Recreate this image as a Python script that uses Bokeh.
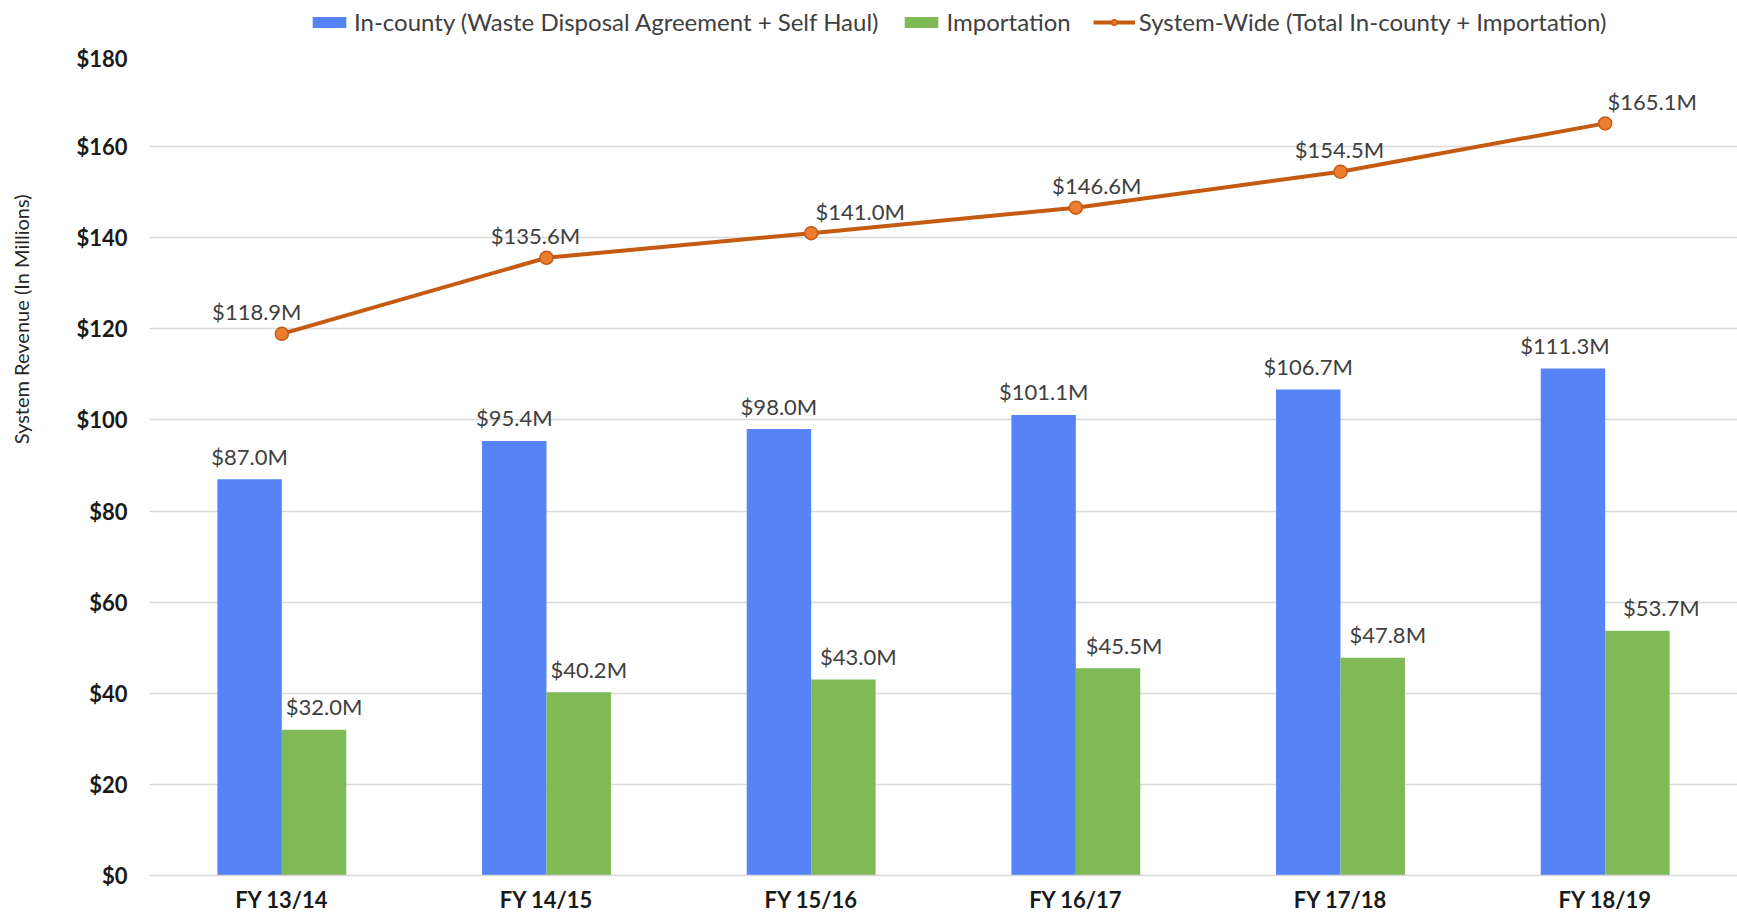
from bokeh.plotting import figure
from bokeh.layouts import column
from bokeh.models import (ColumnDataSource, Range1d, FactorRange, NumeralTickFormatter,
                          FixedTicker, Legend, LegendItem, Title)
from bokeh.transform import dodge
from bokeh.core.properties import value
from bokeh.embed import file_html
from bokeh.resources import INLINE

categories = ["FY 13/14", "FY 14/15", "FY 15/16", "FY 16/17", "FY 17/18", "FY 18/19"]
in_county = [87.0, 95.4, 98.0, 101.1, 106.7, 111.3]
importation = [32.0, 40.2, 43.0, 45.5, 47.8, 53.7]
system_wide = [118.9, 135.6, 141.0, 146.6, 154.5, 165.1]
y_ticks = [0, 20, 40, 60, 80, 100, 120, 140, 160, 180]

# small horizontal nudges (px) of the value labels, as placed in the original
nudge_in_county = [0, 0, 0, 0, 0, -8]
nudge_importation = [10, 10, 15, 16, 15, 24]
nudge_system = [-25, -11, 49, 21, -1, 47]

FONT = "Lato"
BLUE = "#5683F6"
GREEN = "#7FBA57"
ORANGE_LINE = "#C55A11"
ORANGE_FILL = "#ED7D31"
LABEL_COLOR = "#404040"
W = 1737
LEG_H = 44

src = ColumnDataSource(dict(
    cat=categories,
    inc=in_county,
    imp=importation,
    sw=system_wide,
    inc_lbl=["${:.1f}M".format(v) for v in in_county],
    imp_lbl=["${:.1f}M".format(v) for v in importation],
    sw_lbl=["${:.1f}M".format(v) for v in system_wide],
    n_inc=nudge_in_county,
    n_imp=nudge_importation,
    n_sw=nudge_system,
))

p = figure(x_range=FactorRange(factors=categories, range_padding=0),
           y_range=Range1d(0, 180),
           width=W, height=923 - LEG_H,
           output_backend="svg", toolbar_location=None,
           min_border_left=149, min_border_right=0,
           min_border_top=55 - LEG_H, min_border_bottom=48)
p.outline_line_color = None
p.background_fill_color = "white"
p.border_fill_color = "white"

BW = 0.2435
bar_inc = dict(fill_color=BLUE, line_color=None)
bar_imp = dict(fill_color=GREEN, line_color=None)
line_sty = dict(line_color=ORANGE_LINE, line_width=4)
pt_sty = dict(size=13, fill_color=ORANGE_FILL, line_color=ORANGE_LINE, line_width=1.5)


def draw_series(fig):
    ri = fig.vbar(x=dodge("cat", -BW / 2, range=fig.x_range), top="inc", width=BW,
                  bottom=0, source=src, **bar_inc)
    rm = fig.vbar(x=dodge("cat", BW / 2, range=fig.x_range), top="imp", width=BW,
                  bottom=0, source=src, **bar_imp)
    rl = fig.line(x="cat", y="sw", source=src, **line_sty)
    rp = fig.scatter(x="cat", y="sw", source=src, **pt_sty)
    return ri, rm, rl, rp


draw_series(p)

common = dict(text_font=value(FONT), text_font_size="22px", text_color=LABEL_COLOR,
              text_align="center", text_baseline="middle", source=src)
p.text(x=dodge("cat", -BW / 2, range=p.x_range), y="inc", text="inc_lbl",
       x_offset="n_inc", y_offset=-23, **common)
p.text(x=dodge("cat", BW / 2, range=p.x_range), y="imp", text="imp_lbl",
       x_offset="n_imp", y_offset=-23, **common)
p.text(x="cat", y="sw", text="sw_lbl", x_offset="n_sw", y_offset=-22, **common)

# axes
p.xgrid.grid_line_color = None
p.ygrid.grid_line_color = "#D9D9D9"
p.ygrid.grid_line_width = 1.3
p.yaxis.ticker = FixedTicker(ticks=y_ticks)
p.yaxis.formatter = NumeralTickFormatter(format="$0")
for ax in (p.xaxis, p.yaxis):
    ax.major_tick_line_color = None
    ax.minor_tick_line_color = None
    ax.major_tick_out = 0
    ax.major_tick_in = 0
    ax.minor_tick_out = 0
    ax.major_label_text_font = FONT
    ax.major_label_text_font_size = "22px"
    ax.major_label_text_font_style = "bold"
    ax.major_label_text_color = "#1A1A1A"
p.yaxis.axis_line_color = None
p.yaxis.major_label_standoff = 22
# blank axis label, only used as spacing between tick labels and the y title
p.yaxis.axis_label = " "
p.yaxis.axis_label_text_font_size = "2px"
p.yaxis.axis_label_standoff = 31
p.xaxis.axis_line_color = "#D9D9D9"
p.xaxis.axis_line_width = 1.3
p.xaxis.major_label_standoff = 10

# for a left title, align="right" anchors the text's top end at the frame top + offset
ytitle = Title(text="System Revenue (In Millions)", align="right", offset=139,
               text_font=FONT, text_font_size="20px", text_font_style="normal",
               text_color="#262626")
p.add_layout(ytitle, "left")

# legend strip above the chart: same series, drawn outside this strip's visible y range,
# so only their legend glyphs appear
lf = figure(width=W, height=LEG_H,
            x_range=FactorRange(factors=categories, range_padding=0),
            y_range=Range1d(1000, 1001),
            output_backend="svg", toolbar_location=None,
            min_border=0, min_border_left=0, min_border_right=0,
            min_border_top=0, min_border_bottom=0)
lf.axis.visible = False
lf.grid.visible = False
lf.outline_line_color = None
lf.background_fill_color = "white"
lf.border_fill_color = "white"
l_inc, l_imp, l_line, l_pts = draw_series(lf)

legend = Legend(items=[
    LegendItem(label="In-county (Waste Disposal Agreement + Self Haul)", renderers=[l_inc]),
    LegendItem(label="Importation", renderers=[l_imp]),
    LegendItem(label="System-Wide (Total In-county + Importation)", renderers=[l_line, l_pts]),
], orientation="horizontal", location=(159, 8))
legend.label_text_font = FONT
legend.label_text_font_size = "24px"
legend.label_text_color = LABEL_COLOR
legend.glyph_width = 42
legend.glyph_height = 14
legend.label_standoff = 4
legend.spacing = 22
legend.padding = 2
legend.margin = 0
legend.border_line_color = None
legend.background_fill_alpha = 0
lf.add_layout(legend, "center")

layout = column(lf, p, spacing=0)
open("out.html", "w").write(file_html(layout, INLINE))
